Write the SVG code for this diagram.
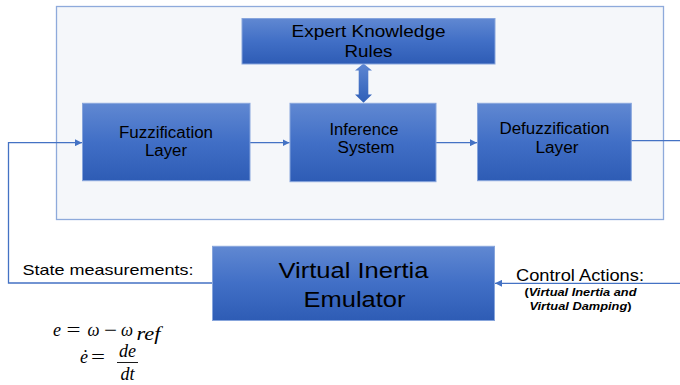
<svg xmlns="http://www.w3.org/2000/svg" width="680" height="385" viewBox="0 0 680 385">
  <defs>
    <linearGradient id="boxFill" x1="0" y1="0" x2="0" y2="1">
      <stop offset="0" stop-color="#6088d2"/>
      <stop offset="0.5" stop-color="#416fc6"/>
      <stop offset="1" stop-color="#2e5cb5"/>
    </linearGradient>
    <linearGradient id="dblFill" x1="0" y1="0" x2="0" y2="1">
      <stop offset="0" stop-color="#5d86d2"/>
      <stop offset="1" stop-color="#2f5fb8"/>
    </linearGradient>
    <marker id="head" viewBox="0 0 8 8" refX="8" refY="4" markerWidth="7" markerHeight="7" markerUnits="userSpaceOnUse" orient="auto">
      <path d="M0,0 L8,4 L0,8 Z" fill="#4472c4"/>
    </marker>
    <style>
      .box { fill: url(#boxFill); stroke: #87a5dc; stroke-width: 1; }
      .lbl { font-family: "Liberation Sans", Arial, sans-serif; fill: #000; text-anchor: middle; }
      .wire { fill: none; stroke: #4472c4; stroke-width: 1.3; }
      .math { font-family: "Liberation Serif", "DejaVu Serif", serif; font-size: 18px; fill: #000; }
      .it { font-style: italic; }
    </style>
  </defs>

  <!-- fuzzy controller panel -->
  <rect id="panel" x="56.5" y="6.5" width="607" height="213" fill="#f5f7fa" stroke="#8eaadb" stroke-width="1.3"/>

  <!-- connectors -->
  <g id="connectors">
    <!-- state feedback into fuzzification -->
    <path class="wire" d="M212,283 H8.5 V142.7 H82" marker-end="url(#head)"/>
    <path class="wire" d="M250,142.7 H289.5" marker-end="url(#head)"/>
    <path class="wire" d="M436,142.7 H477" marker-end="url(#head)"/>
    <!-- defuzzified output leaves the panel -->
    <path class="wire" d="M631,140.7 H680"/>
    <!-- control actions back to the emulator -->
    <path class="wire" d="M680,283.3 H495" marker-end="url(#head)"/>
    <!-- rule base exchange -->
    <path d="M363.5,63.5 L372,70.5 L368.3,70.5 L368.3,94.5 L372,94.5 L363.5,102.8 L355,94.5 L358.7,94.5 L358.7,70.5 L355,70.5 Z" fill="url(#dblFill)"/>
  </g>

  <g id="expert">
    <rect class="box" x="242" y="18.5" width="253" height="45.5"/>
    <text class="lbl" x="368.5" y="36.7" font-size="17" textLength="154" lengthAdjust="spacingAndGlyphs">Expert Knowledge</text>
    <text class="lbl" x="368.5" y="56.7" font-size="17" textLength="48" lengthAdjust="spacingAndGlyphs">Rules</text>
  </g>

  <g id="fuzzification">
    <rect class="box" x="82.5" y="103.3" width="167.5" height="77.4"/>
    <text class="lbl" x="166" y="137.7" font-size="16" textLength="94" lengthAdjust="spacingAndGlyphs">Fuzzification</text>
    <text class="lbl" x="166" y="155.7" font-size="16" textLength="42" lengthAdjust="spacingAndGlyphs">Layer</text>
  </g>

  <g id="inference">
    <rect class="box" x="290" y="103.3" width="146" height="78.4"/>
    <text class="lbl" x="364" y="135" font-size="16" textLength="69" lengthAdjust="spacingAndGlyphs">Inference</text>
    <text class="lbl" x="366" y="153.3" font-size="16" textLength="57" lengthAdjust="spacingAndGlyphs">System</text>
  </g>

  <g id="defuzzification">
    <rect class="box" x="477.5" y="103.3" width="153.8" height="77.4"/>
    <text class="lbl" x="554.5" y="134.3" font-size="16" textLength="110" lengthAdjust="spacingAndGlyphs">Defuzzification</text>
    <text class="lbl" x="557" y="152.7" font-size="16" textLength="43" lengthAdjust="spacingAndGlyphs">Layer</text>
  </g>

  <g id="emulator">
    <rect class="box" x="212.5" y="246.3" width="282" height="74.2"/>
    <text class="lbl" x="353.5" y="278.3" font-size="22" textLength="150" lengthAdjust="spacingAndGlyphs">Virtual Inertia</text>
    <text class="lbl" x="354.5" y="306.7" font-size="22" textLength="102" lengthAdjust="spacingAndGlyphs">Emulator</text>
  </g>

  <!-- signal labels -->
  <g id="labels">
    <text class="lbl" x="108" y="275" font-size="15" textLength="171" lengthAdjust="spacingAndGlyphs">State measurements:</text>
    <text class="lbl" x="580" y="280.5" font-size="17" textLength="128" lengthAdjust="spacingAndGlyphs">Control Actions:</text>
    <text class="lbl" x="580.5" y="295.7" font-size="11.5" font-weight="bold" textLength="112" lengthAdjust="spacingAndGlyphs">(<tspan font-style="italic">Virtual Inertia and</tspan></text>
    <text class="lbl" x="580.5" y="310" font-size="11.5" font-weight="bold" textLength="102" lengthAdjust="spacingAndGlyphs"><tspan font-style="italic">Virtual Damping</tspan>)</text>
  </g>

  <!-- error equations -->
  <g id="equations">
    <text class="math it" x="53" y="336">e</text>
    <text class="math" x="66.5" y="336" textLength="14" lengthAdjust="spacingAndGlyphs">=</text>
    <text class="math it" x="87.5" y="336" textLength="12" lengthAdjust="spacingAndGlyphs">ω</text>
    <text class="math" x="104" y="336" textLength="13" lengthAdjust="spacingAndGlyphs">−</text>
    <text class="math it" x="121" y="336" textLength="12" lengthAdjust="spacingAndGlyphs">ω</text>
    <text class="math it" x="136.5" y="340" font-size="12.5" textLength="24" lengthAdjust="spacingAndGlyphs">ref</text>

    <text class="math it" x="80" y="363">ė</text>
    <text class="math" x="91" y="363" textLength="14" lengthAdjust="spacingAndGlyphs">=</text>
    <text class="math it" x="127.5" y="356.7" text-anchor="middle">de</text>
    <line x1="117" y1="362.5" x2="138" y2="362.5" stroke="#000" stroke-width="0.9"/>
    <text class="math it" x="127.5" y="380" text-anchor="middle">dt</text>
  </g>
</svg>
